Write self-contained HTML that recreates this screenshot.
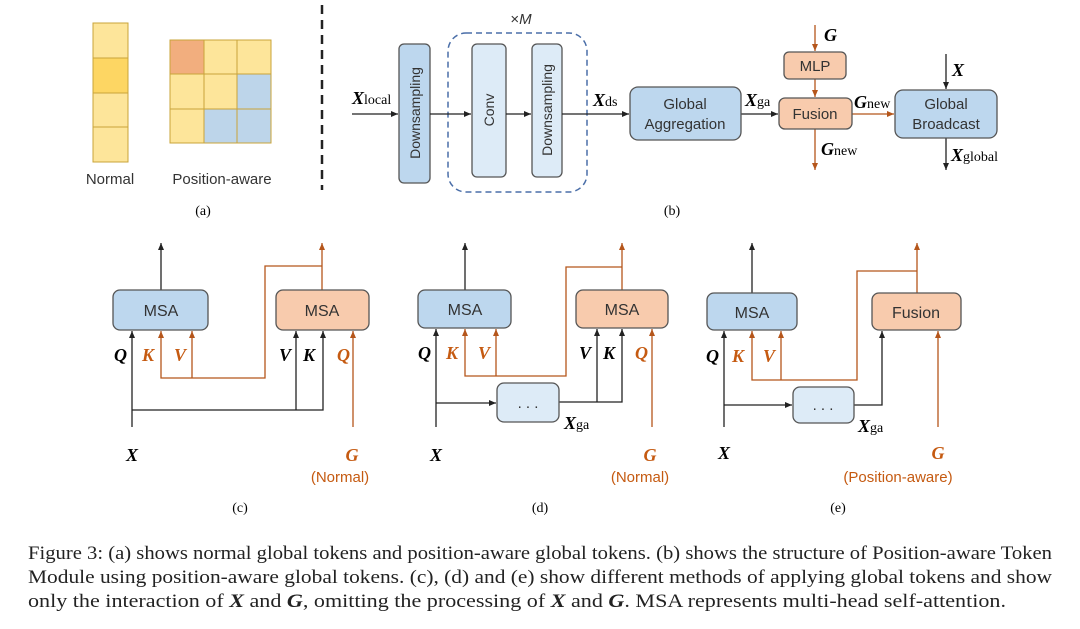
<!DOCTYPE html>
<html><head><meta charset="utf-8"><style>
html,body{margin:0;padding:0;background:#fff;}
svg{display:block;}
.s{font-family:"Liberation Sans",sans-serif;fill:#333;}
.m{font-family:"Liberation Serif",serif;font-style:italic;font-weight:bold;}
.r{font-family:"Liberation Serif",serif;}
</style></head><body>
<svg width="1080" height="629" viewBox="0 0 1080 629" xmlns="http://www.w3.org/2000/svg">
<defs>
<marker id="ak" markerWidth="8" markerHeight="8" refX="7" refY="4" orient="auto" markerUnits="userSpaceOnUse"><path d="M0,1 L7,4 L0,7 z" fill="#222"/></marker>
<marker id="ao" markerWidth="8" markerHeight="8" refX="7" refY="4" orient="auto" markerUnits="userSpaceOnUse"><path d="M0,1 L7,4 L0,7 z" fill="#b5561b"/></marker>
</defs>
<rect width="1080" height="629" fill="#fff"/>
<!-- (a) -->
<g stroke="#c9a43a" stroke-width="1">
<rect x="93" y="23" width="35" height="35" fill="#fde59a"/>
<rect x="93" y="58" width="35" height="35" fill="#fdd663"/>
<rect x="93" y="93" width="35" height="34" fill="#fde59a"/>
<rect x="93" y="127" width="35" height="35" fill="#fde59a"/>
<rect x="170" y="40" width="34" height="34" fill="#f2ae7e"/>
<rect x="204" y="40" width="33" height="34" fill="#fde59a"/>
<rect x="237" y="40" width="34" height="34" fill="#fde59a"/>
<rect x="170" y="74" width="34" height="35" fill="#fde59a"/>
<rect x="204" y="74" width="33" height="35" fill="#fde59a"/>
<rect x="237" y="74" width="34" height="35" fill="#bdd5ea"/>
<rect x="170" y="109" width="34" height="34" fill="#fde59a"/>
<rect x="204" y="109" width="33" height="34" fill="#bdd5ea"/>
<rect x="237" y="109" width="34" height="34" fill="#bdd5ea"/>
</g>
<text class="s" x="110" y="184" font-size="15" text-anchor="middle">Normal</text>
<text class="s" x="222" y="184" font-size="15" text-anchor="middle">Position-aware</text>
<text class="r" x="203" y="215" font-size="14" text-anchor="middle">(a)</text>
<line x1="322" y1="5" x2="322" y2="190" stroke="#222" stroke-width="2.5" stroke-dasharray="9,6"/>
<!-- (b) -->
<rect x="448" y="33" width="139" height="159" rx="18" fill="none" stroke="#4a6ea8" stroke-width="1.5" stroke-dasharray="6,4"/>
<text x="521" y="24" font-size="15" class="s" text-anchor="middle">×<tspan font-style="italic">M</tspan></text>
<rect x="399" y="44" width="31" height="139" rx="5" fill="#bdd7ee" stroke="#555" stroke-width="1.3"/>
<text class="s" font-size="14" transform="translate(420,113) rotate(-90)" text-anchor="middle">Downsampling</text>
<rect x="472" y="44" width="34" height="133" rx="5" fill="#ddebf7" stroke="#555" stroke-width="1.3"/>
<text class="s" font-size="14" transform="translate(494,110) rotate(-90)" text-anchor="middle">Conv</text>
<rect x="532" y="44" width="30" height="133" rx="5" fill="#ddebf7" stroke="#555" stroke-width="1.3"/>
<text class="s" font-size="14" transform="translate(552,110) rotate(-90)" text-anchor="middle">Downsampling</text>
<g stroke="#222" stroke-width="1.3" fill="none">
<line x1="352" y1="114" x2="398" y2="114" marker-end="url(#ak)"/>
<line x1="430" y1="114" x2="471" y2="114" marker-end="url(#ak)"/>
<line x1="506" y1="114" x2="531" y2="114" marker-end="url(#ak)"/>
<line x1="562" y1="114" x2="629" y2="114" marker-end="url(#ak)"/>
<line x1="741" y1="114" x2="778" y2="114" marker-end="url(#ak)"/>
<line x1="946" y1="54" x2="946" y2="89" marker-end="url(#ak)"/>
<line x1="946" y1="138" x2="946" y2="170" marker-end="url(#ak)"/>
</g>
<text x="352" y="104" font-size="18"><tspan class="m">X</tspan><tspan class="r" font-size="14">local</tspan></text>
<text x="593" y="106" font-size="18"><tspan class="m">X</tspan><tspan class="r" font-size="14">ds</tspan></text>
<text x="745" y="106" font-size="18"><tspan class="m">X</tspan><tspan class="r" font-size="14">ga</tspan></text>
<rect x="630" y="87" width="111" height="53" rx="8" fill="#bdd7ee" stroke="#555" stroke-width="1.3"/>
<text class="s" x="685" y="109" font-size="15" text-anchor="middle">Global</text>
<text class="s" x="685" y="129" font-size="15" text-anchor="middle">Aggregation</text>
<g stroke="#b5561b" stroke-width="1.3" fill="none">
<line x1="815" y1="25" x2="815" y2="51" marker-end="url(#ao)"/>
<line x1="815" y1="79" x2="815" y2="97" marker-end="url(#ao)"/>
<line x1="815" y1="129" x2="815" y2="170" marker-end="url(#ao)"/>
<line x1="852" y1="114" x2="894" y2="114" marker-end="url(#ao)"/>
</g>
<rect x="784" y="52" width="62" height="27" rx="5" fill="#f8cbad" stroke="#555" stroke-width="1.3"/>
<text class="s" x="815" y="71" font-size="15" text-anchor="middle">MLP</text>
<rect x="779" y="98" width="73" height="31" rx="6" fill="#f8cbad" stroke="#555" stroke-width="1.3"/>
<text class="s" x="815" y="119" font-size="15" text-anchor="middle">Fusion</text>
<text x="824" y="41" class="m" font-size="18">G</text>
<text x="854" y="108" font-size="18"><tspan class="m">G</tspan><tspan class="r" font-size="14">new</tspan></text>
<text x="821" y="155" font-size="18"><tspan class="m">G</tspan><tspan class="r" font-size="14">new</tspan></text>
<rect x="895" y="90" width="102" height="48" rx="8" fill="#bdd7ee" stroke="#555" stroke-width="1.3"/>
<text class="s" x="946" y="109" font-size="15" text-anchor="middle">Global</text>
<text class="s" x="946" y="129" font-size="15" text-anchor="middle">Broadcast</text>
<text x="952" y="76" class="m" font-size="18">X</text>
<text x="951" y="161" font-size="18"><tspan class="m">X</tspan><tspan class="r" font-size="14">global</tspan></text>
<text class="r" x="672" y="215" font-size="14" text-anchor="middle">(b)</text>

<!-- (c) -->
<g fill="none" stroke-width="1.3">
<path d="M161,290 V243" stroke="#222" marker-end="url(#ak)"/>
<path d="M132,427 V331" stroke="#222" marker-end="url(#ak)"/>
<path d="M132,410 H323 V331" stroke="#222" marker-end="url(#ak)"/>
<path d="M296,410 V331" stroke="#222" marker-end="url(#ak)"/>
<path d="M322,290 V243" stroke="#b5561b" marker-end="url(#ao)"/>
<path d="M322,266 H265 V378 H161 V331" stroke="#b5561b" marker-end="url(#ao)"/>
<path d="M192,378 V331" stroke="#b5561b" marker-end="url(#ao)"/>
<path d="M353,427 V331" stroke="#b5561b" marker-end="url(#ao)"/>
</g>
<rect x="113" y="290" width="95" height="40" rx="7" fill="#bdd7ee" stroke="#555" stroke-width="1.3"/>
<text class="s" x="161" y="316" font-size="16" text-anchor="middle">MSA</text>
<rect x="276" y="290" width="93" height="40" rx="7" fill="#f8cbad" stroke="#555" stroke-width="1.3"/>
<text class="s" x="322" y="316" font-size="16" text-anchor="middle">MSA</text>
<text class="m" font-size="18" x="114" y="361">Q</text>
<text class="m" font-size="18" x="142" y="361" fill="#c55a11">K</text>
<text class="m" font-size="18" x="174" y="361" fill="#c55a11">V</text>
<text class="m" font-size="18" x="279" y="361">V</text>
<text class="m" font-size="18" x="303" y="361">K</text>
<text class="m" font-size="18" x="337" y="361" fill="#c55a11">Q</text>
<text class="m" font-size="18" x="132" y="461" text-anchor="middle">X</text>
<text class="m" font-size="18" x="352" y="461" text-anchor="middle" fill="#c55a11">G</text>
<text class="s" font-size="15" x="340" y="482" text-anchor="middle" style="fill:#c55a11">(Normal)</text>
<text class="r" x="240" y="512" font-size="14" text-anchor="middle">(c)</text>

<!-- (d) -->
<g fill="none" stroke-width="1.3">
<path d="M465,290 V243" stroke="#222" marker-end="url(#ak)"/>
<path d="M436,427 V329" stroke="#222" marker-end="url(#ak)"/>
<path d="M436,403 H496" stroke="#222" marker-end="url(#ak)"/>
<path d="M559,402 H622 V329" stroke="#222" marker-end="url(#ak)"/>
<path d="M597,402 V329" stroke="#222" marker-end="url(#ak)"/>
<path d="M622,290 V243" stroke="#b5561b" marker-end="url(#ao)"/>
<path d="M622,267 H566 V376 H465 V329" stroke="#b5561b" marker-end="url(#ao)"/>
<path d="M496,376 V329" stroke="#b5561b" marker-end="url(#ao)"/>
<path d="M652,427 V329" stroke="#b5561b" marker-end="url(#ao)"/>
</g>
<rect x="418" y="290" width="93" height="38" rx="7" fill="#bdd7ee" stroke="#555" stroke-width="1.3"/>
<text class="s" x="465" y="315" font-size="16" text-anchor="middle">MSA</text>
<rect x="576" y="290" width="92" height="38" rx="7" fill="#f8cbad" stroke="#555" stroke-width="1.3"/>
<text class="s" x="622" y="315" font-size="16" text-anchor="middle">MSA</text>
<rect x="497" y="383" width="62" height="39" rx="7" fill="#ddebf7" stroke="#555" stroke-width="1.3"/>
<text class="s" x="528" y="408" font-size="15" text-anchor="middle">. . .</text>
<text x="564" y="429" font-size="18"><tspan class="m">X</tspan><tspan class="r" font-size="14">ga</tspan></text>
<text class="m" font-size="18" x="418" y="359">Q</text>
<text class="m" font-size="18" x="446" y="359" fill="#c55a11">K</text>
<text class="m" font-size="18" x="478" y="359" fill="#c55a11">V</text>
<text class="m" font-size="18" x="579" y="359">V</text>
<text class="m" font-size="18" x="603" y="359">K</text>
<text class="m" font-size="18" x="635" y="359" fill="#c55a11">Q</text>
<text class="m" font-size="18" x="436" y="461" text-anchor="middle">X</text>
<text class="m" font-size="18" x="650" y="461" text-anchor="middle" fill="#c55a11">G</text>
<text class="s" font-size="15" x="640" y="482" text-anchor="middle" style="fill:#c55a11">(Normal)</text>
<text class="r" x="540" y="512" font-size="14" text-anchor="middle">(d)</text>

<!-- (e) -->
<g fill="none" stroke-width="1.3">
<path d="M752,293 V243" stroke="#222" marker-end="url(#ak)"/>
<path d="M724,427 V331" stroke="#222" marker-end="url(#ak)"/>
<path d="M724,405 H792" stroke="#222" marker-end="url(#ak)"/>
<path d="M854,405 H882 V331" stroke="#222" marker-end="url(#ak)"/>
<path d="M917,293 V243" stroke="#b5561b" marker-end="url(#ao)"/>
<path d="M917,271 H857 V380 H752 V331" stroke="#b5561b" marker-end="url(#ao)"/>
<path d="M781,380 V331" stroke="#b5561b" marker-end="url(#ao)"/>
<path d="M938,427 V331" stroke="#b5561b" marker-end="url(#ao)"/>
</g>
<rect x="707" y="293" width="90" height="37" rx="7" fill="#bdd7ee" stroke="#555" stroke-width="1.3"/>
<text class="s" x="752" y="318" font-size="16" text-anchor="middle">MSA</text>
<rect x="872" y="293" width="89" height="37" rx="7" fill="#f8cbad" stroke="#555" stroke-width="1.3"/>
<text class="s" x="916" y="318" font-size="16" text-anchor="middle">Fusion</text>
<rect x="793" y="387" width="61" height="36" rx="7" fill="#ddebf7" stroke="#555" stroke-width="1.3"/>
<text class="s" x="823" y="410" font-size="15" text-anchor="middle">. . .</text>
<text x="858" y="432" font-size="18"><tspan class="m">X</tspan><tspan class="r" font-size="14">ga</tspan></text>
<text class="m" font-size="18" x="706" y="362">Q</text>
<text class="m" font-size="18" x="732" y="362" fill="#c55a11">K</text>
<text class="m" font-size="18" x="763" y="362" fill="#c55a11">V</text>
<text class="m" font-size="18" x="724" y="459" text-anchor="middle">X</text>
<text class="m" font-size="18" x="938" y="459" text-anchor="middle" fill="#c55a11">G</text>
<text class="s" font-size="15" x="898" y="482" text-anchor="middle" style="fill:#c55a11">(Position-aware)</text>
<text class="r" x="838" y="512" font-size="14" text-anchor="middle">(e)</text>

<!-- caption -->
<g class="r" font-size="19" fill="#222">
<text x="28" y="559" textLength="1024" lengthAdjust="spacingAndGlyphs">Figure 3: (a) shows normal global tokens and position-aware global tokens. (b) shows the structure of Position-aware Token</text>
<text x="28" y="583" textLength="1024" lengthAdjust="spacingAndGlyphs">Module using position-aware global tokens.  (c), (d) and (e) show different methods of applying global tokens and show</text>
<text x="28" y="607" textLength="978" lengthAdjust="spacingAndGlyphs">only the interaction of <tspan class="m">X</tspan> and <tspan class="m">G</tspan>, omitting the processing of <tspan class="m">X</tspan> and <tspan class="m">G</tspan>. MSA represents multi-head self-attention.</text>
</g>
</svg>
</body></html>
